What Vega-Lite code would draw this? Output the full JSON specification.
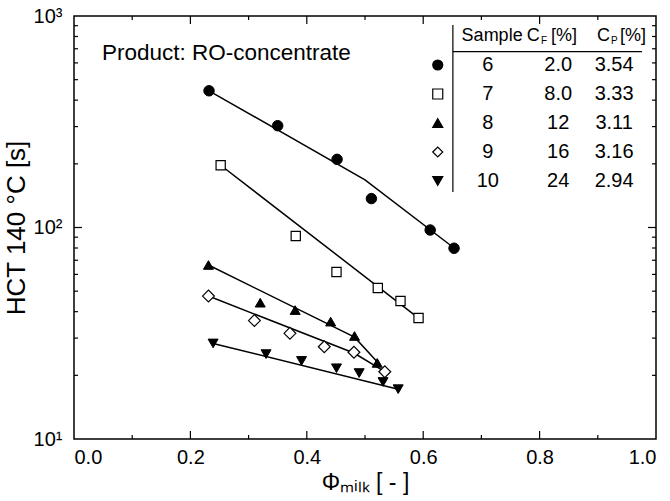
{
  "$schema": "https://vega.github.io/schema/vega-lite/v6.json",
  "width": 582,
  "height": 423,
  "autosize": "none",
  "padding": {"left": 74, "top": 16, "right": 14, "bottom": 62},
  "background": "white",
  "config": {
    "view": {"stroke": "black", "strokeWidth": 1.5},
    "font": "Liberation Sans",
    "axis": {
      "grid": false,
      "labelColor": "black",
      "labelFont": "Liberation Sans",
      "labelFontSize": 20,
      "titleColor": "black",
      "titleFont": "Liberation Sans",
      "titleFontWeight": "normal"
    }
  },
  "datasets": {
    "points": [
      {"sample": "6", "phi": 0.232, "hct": 443},
      {"sample": "6", "phi": 0.350, "hct": 303},
      {"sample": "6", "phi": 0.452, "hct": 210},
      {"sample": "6", "phi": 0.511, "hct": 137},
      {"sample": "6", "phi": 0.612, "hct": 97.3},
      {"sample": "6", "phi": 0.653, "hct": 79.8},
      {"sample": "7", "phi": 0.252, "hct": 197},
      {"sample": "7", "phi": 0.381, "hct": 91.2},
      {"sample": "7", "phi": 0.451, "hct": 61.6},
      {"sample": "7", "phi": 0.522, "hct": 51.8},
      {"sample": "7", "phi": 0.561, "hct": 44.9},
      {"sample": "7", "phi": 0.592, "hct": 37.3},
      {"sample": "8", "phi": 0.231, "hct": 66.5},
      {"sample": "8", "phi": 0.320, "hct": 44.1},
      {"sample": "8", "phi": 0.380, "hct": 40.7},
      {"sample": "8", "phi": 0.441, "hct": 35.9},
      {"sample": "8", "phi": 0.482, "hct": 30.7},
      {"sample": "8", "phi": 0.521, "hct": 22.9},
      {"sample": "9", "phi": 0.231, "hct": 47.4},
      {"sample": "9", "phi": 0.310, "hct": 36.3},
      {"sample": "9", "phi": 0.371, "hct": 31.6},
      {"sample": "9", "phi": 0.430, "hct": 27.3},
      {"sample": "9", "phi": 0.481, "hct": 25.7},
      {"sample": "9", "phi": 0.534, "hct": 20.8},
      {"sample": "10", "phi": 0.239, "hct": 28.3},
      {"sample": "10", "phi": 0.330, "hct": 25.2},
      {"sample": "10", "phi": 0.391, "hct": 23.4},
      {"sample": "10", "phi": 0.451, "hct": 21.6},
      {"sample": "10", "phi": 0.490, "hct": 20.5},
      {"sample": "10", "phi": 0.531, "hct": 18.6},
      {"sample": "10", "phi": 0.557, "hct": 17.2}
    ],
    "fits": [
      {"sample": "6", "phi": 0.232, "hct": 443},
      {"sample": "6", "phi": 0.500, "hct": 168},
      {"sample": "6", "phi": 0.653, "hct": 80},
      {"sample": "7", "phi": 0.252, "hct": 197},
      {"sample": "7", "phi": 0.592, "hct": 37.3},
      {"sample": "8", "phi": 0.231, "hct": 66.5},
      {"sample": "8", "phi": 0.482, "hct": 30.3},
      {"sample": "8", "phi": 0.526, "hct": 22.4},
      {"sample": "9", "phi": 0.231, "hct": 47.4},
      {"sample": "9", "phi": 0.481, "hct": 25.5},
      {"sample": "9", "phi": 0.534, "hct": 20.8},
      {"sample": "10", "phi": 0.239, "hct": 28.3},
      {"sample": "10", "phi": 0.557, "hct": 17.2}
    ],
    "xmajor": [{"v": 0.2}, {"v": 0.4}, {"v": 0.6}, {"v": 0.8}],
    "xminor": [{"v": 0.1}, {"v": 0.3}, {"v": 0.5}, {"v": 0.7}, {"v": 0.9}],
    "ymajor": [{"v": 100}],
    "yminor": [
      {"v": 20}, {"v": 30}, {"v": 40}, {"v": 50}, {"v": 60}, {"v": 70}, {"v": 80}, {"v": 90},
      {"v": 200}, {"v": 300}, {"v": 400}, {"v": 500}, {"v": 600}, {"v": 700}, {"v": 800}, {"v": 900}
    ],
    "table": [
      {"sample": "6", "cf": "2.0", "cp": "3.54"},
      {"sample": "7", "cf": "8.0", "cp": "3.33"},
      {"sample": "8", "cf": "12", "cp": "3.11"},
      {"sample": "9", "cf": "16", "cp": "3.16"},
      {"sample": "10", "cf": "24", "cp": "2.94"}
    ]
  },
  "layer": [
    {
      "resolve": {"axis": {"x": "independent", "y": "independent"}},
      "layer": [
        {
          "data": {"name": "fits"},
          "mark": {"type": "line", "color": "black", "strokeWidth": 1.5},
          "encoding": {
            "x": {
              "field": "phi", "type": "quantitative",
              "scale": {"domain": [0, 1], "nice": false, "zero": false},
              "axis": {
                "orient": "bottom",
                "values": [0, 0.2, 0.4, 0.6, 0.8, 1.0],
                "format": ".1f",
                "ticks": false,
                "domain": false,
                "labelPadding": 8,
                "title": "Φₘᵢₗₖ [ - ]",
                "titleFontSize": 23,
                "titlePadding": 4
              }
            },
            "y": {
              "field": "hct", "type": "quantitative",
              "scale": {"type": "log", "domain": [10, 1000], "nice": false},
              "axis": {
                "orient": "left",
                "values": [10, 100, 1000],
                "labelExpr": "datum.value == 10 ? '10¹' : datum.value == 100 ? '10²' : '10³'",
                "ticks": false,
                "domain": false,
                "labelPadding": 12,
                "title": "HCT 140 °C [s]",
                "titleFontSize": 26,
                "titlePadding": 4
              }
            },
            "detail": {"field": "sample"}
          }
        },
        {
          "data": {"name": "xmajor"},
          "mark": {"type": "tick", "orient": "vertical", "color": "black", "opacity": 1, "thickness": 1.2, "size": 8, "yOffset": -4},
          "encoding": {
            "x": {"field": "v", "type": "quantitative", "axis": null},
            "y": {"datum": 10, "type": "quantitative", "axis": null}
          }
        },
        {
          "data": {"name": "xmajor"},
          "mark": {"type": "tick", "orient": "vertical", "color": "black", "opacity": 1, "thickness": 1.2, "size": 8, "yOffset": 4},
          "encoding": {
            "x": {"field": "v", "type": "quantitative", "axis": null},
            "y": {"datum": 1000, "type": "quantitative", "axis": null}
          }
        },
        {
          "data": {"name": "xminor"},
          "mark": {"type": "tick", "orient": "vertical", "color": "black", "opacity": 1, "thickness": 1.2, "size": 4, "yOffset": -2},
          "encoding": {
            "x": {"field": "v", "type": "quantitative", "axis": null},
            "y": {"datum": 10, "type": "quantitative", "axis": null}
          }
        },
        {
          "data": {"name": "xminor"},
          "mark": {"type": "tick", "orient": "vertical", "color": "black", "opacity": 1, "thickness": 1.2, "size": 4, "yOffset": 2},
          "encoding": {
            "x": {"field": "v", "type": "quantitative", "axis": null},
            "y": {"datum": 1000, "type": "quantitative", "axis": null}
          }
        },
        {
          "data": {"name": "ymajor"},
          "mark": {"type": "tick", "orient": "horizontal", "color": "black", "opacity": 1, "thickness": 1.2, "size": 8, "xOffset": 4},
          "encoding": {
            "y": {"field": "v", "type": "quantitative", "axis": null},
            "x": {"datum": 0, "type": "quantitative", "axis": null}
          }
        },
        {
          "data": {"name": "ymajor"},
          "mark": {"type": "tick", "orient": "horizontal", "color": "black", "opacity": 1, "thickness": 1.2, "size": 8, "xOffset": -4},
          "encoding": {
            "y": {"field": "v", "type": "quantitative", "axis": null},
            "x": {"datum": 1, "type": "quantitative", "axis": null}
          }
        },
        {
          "data": {"name": "yminor"},
          "mark": {"type": "tick", "orient": "horizontal", "color": "black", "opacity": 1, "thickness": 1.2, "size": 4, "xOffset": 2},
          "encoding": {
            "y": {"field": "v", "type": "quantitative", "axis": null},
            "x": {"datum": 0, "type": "quantitative", "axis": null}
          }
        },
        {
          "data": {"name": "yminor"},
          "mark": {"type": "tick", "orient": "horizontal", "color": "black", "opacity": 1, "thickness": 1.2, "size": 4, "xOffset": -2},
          "encoding": {
            "y": {"field": "v", "type": "quantitative", "axis": null},
            "x": {"datum": 1, "type": "quantitative", "axis": null}
          }
        },
        {
          "data": {"name": "points"},
          "transform": [{"filter": {"field": "sample", "equal": "6"}}],
          "mark": {"type": "point", "shape": "circle", "filled": true, "fill": "black", "stroke": "black", "strokeWidth": 1, "size": 110, "opacity": 1},
          "encoding": {
            "x": {"field": "phi", "type": "quantitative", "axis": null},
            "y": {"field": "hct", "type": "quantitative", "axis": null}
          }
        },
        {
          "data": {"name": "points"},
          "transform": [{"filter": {"field": "sample", "equal": "7"}}],
          "mark": {"type": "point", "shape": "square", "filled": true, "fill": "white", "stroke": "black", "strokeWidth": 1.2, "size": 85, "opacity": 1},
          "encoding": {
            "x": {"field": "phi", "type": "quantitative", "axis": null},
            "y": {"field": "hct", "type": "quantitative", "axis": null}
          }
        },
        {
          "data": {"name": "points"},
          "transform": [{"filter": {"field": "sample", "equal": "8"}}],
          "mark": {"type": "point", "shape": "triangle-up", "filled": true, "fill": "black", "stroke": "black", "strokeWidth": 1, "size": 100, "opacity": 1},
          "encoding": {
            "x": {"field": "phi", "type": "quantitative", "axis": null},
            "y": {"field": "hct", "type": "quantitative", "axis": null}
          }
        },
        {
          "data": {"name": "points"},
          "transform": [{"filter": {"field": "sample", "equal": "9"}}],
          "mark": {"type": "point", "shape": "diamond", "filled": true, "fill": "white", "stroke": "black", "strokeWidth": 1.2, "size": 140, "opacity": 1},
          "encoding": {
            "x": {"field": "phi", "type": "quantitative", "axis": null},
            "y": {"field": "hct", "type": "quantitative", "axis": null}
          }
        },
        {
          "data": {"name": "points"},
          "transform": [{"filter": {"field": "sample", "equal": "10"}}],
          "mark": {"type": "point", "shape": "triangle-down", "filled": true, "fill": "black", "stroke": "black", "strokeWidth": 1, "size": 100, "opacity": 1},
          "encoding": {
            "x": {"field": "phi", "type": "quantitative", "axis": null},
            "y": {"field": "hct", "type": "quantitative", "axis": null}
          }
        },
        {
          "data": {"values": [{"label": "Product: RO-concentrate"}]},
          "mark": {"type": "text", "align": "left", "baseline": "alphabetic", "fontSize": 22.5, "font": "Liberation Sans", "color": "black"},
          "encoding": {
            "x": {"datum": 0.048, "type": "quantitative", "axis": null},
            "y": {"datum": 620, "type": "quantitative", "axis": null},
            "text": {"field": "label"}
          }
        }
      ]
    },
    {
      "layer": [
        {
          "data": {"name": "table"},
          "mark": {"type": "point", "filled": true, "stroke": "black", "strokeWidth": 1.2, "size": 100, "opacity": 1},
          "encoding": {
            "x": {"datum": 0.625, "type": "quantitative", "axis": null},
            "y": {
              "field": "sample", "type": "ordinal",
              "scale": {"type": "point", "domain": ["h", "6", "7", "8", "9", "10"], "range": [20, 165], "padding": 0},
              "axis": null
            },
            "shape": {
              "field": "sample", "type": "nominal",
              "scale": {"domain": ["6", "7", "8", "9", "10"], "range": ["circle", "square", "triangle-up", "diamond", "triangle-down"]},
              "legend": null
            },
            "fill": {
              "field": "sample", "type": "nominal",
              "scale": {"domain": ["6", "7", "8", "9", "10"], "range": ["black", "white", "black", "white", "black"]},
              "legend": null
            }
          }
        },
        {
          "data": {"name": "table"},
          "mark": {"type": "text", "align": "center", "baseline": "middle", "fontSize": 20, "color": "black"},
          "encoding": {
            "x": {"datum": 0.711, "type": "quantitative", "axis": null},
            "y": {"field": "sample", "type": "ordinal", "axis": null},
            "text": {"field": "sample"}
          }
        },
        {
          "data": {"name": "table"},
          "mark": {"type": "text", "align": "center", "baseline": "middle", "fontSize": 20, "color": "black"},
          "encoding": {
            "x": {"datum": 0.832, "type": "quantitative", "axis": null},
            "y": {"field": "sample", "type": "ordinal", "axis": null},
            "text": {"field": "cf"}
          }
        },
        {
          "data": {"name": "table"},
          "mark": {"type": "text", "align": "center", "baseline": "middle", "fontSize": 20, "color": "black"},
          "encoding": {
            "x": {"datum": 0.928, "type": "quantitative", "axis": null},
            "y": {"field": "sample", "type": "ordinal", "axis": null},
            "text": {"field": "cp"}
          }
        },
        {
          "data": {"values": [
            {"t": "Sample", "pos": 0.666},
            {"t": "C", "pos": 0.778},
            {"t": "[%]", "pos": 0.8196},
            {"t": "C", "pos": 0.8986},
            {"t": "[%]", "pos": 0.938}
          ]},
          "mark": {"type": "text", "align": "left", "baseline": "middle", "fontSize": 18, "color": "black"},
          "encoding": {
            "x": {"field": "pos", "type": "quantitative", "axis": null},
            "y": {"datum": "h", "type": "ordinal", "axis": null},
            "text": {"field": "t"}
          }
        },
        {
          "data": {"values": [
            {"t": "F", "pos": 0.8024},
            {"t": "P", "pos": 0.9227}
          ]},
          "mark": {"type": "text", "align": "left", "baseline": "middle", "fontSize": 10, "dy": 5, "color": "black"},
          "encoding": {
            "x": {"field": "pos", "type": "quantitative", "axis": null},
            "y": {"datum": "h", "type": "ordinal", "axis": null},
            "text": {"field": "t"}
          }
        },
        {
          "data": {"values": [{}]},
          "mark": {"type": "rule", "color": "black", "strokeWidth": 1.2, "yOffset": -11, "y2Offset": 11},
          "encoding": {
            "x": {"datum": 0.651, "type": "quantitative", "axis": null},
            "y": {"datum": "h", "type": "ordinal", "axis": null},
            "y2": {"datum": "10"}
          }
        },
        {
          "data": {"values": [{}]},
          "mark": {"type": "rule", "color": "black", "strokeWidth": 1.2, "yOffset": 15.7},
          "encoding": {
            "x": {"datum": 0.651, "type": "quantitative", "axis": null},
            "x2": {"datum": 0.976},
            "y": {"datum": "h", "type": "ordinal", "axis": null}
          }
        }
      ]
    }
  ],
  "resolve": {"scale": {"y": "independent"}}
}
